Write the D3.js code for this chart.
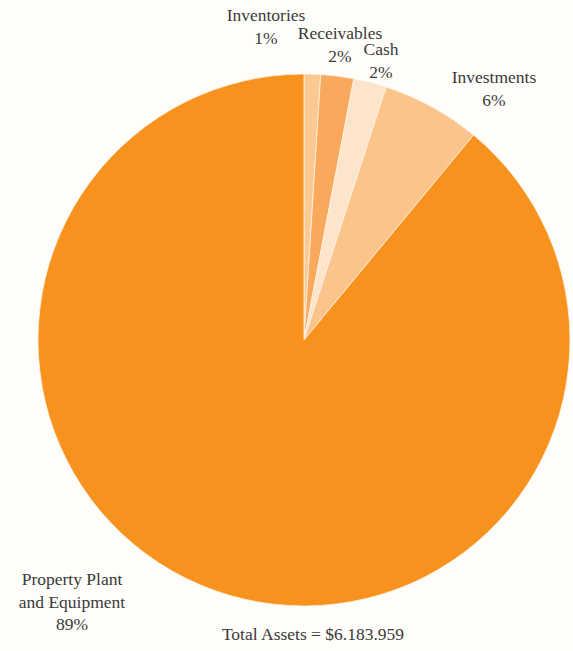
<!DOCTYPE html>
<html><head><meta charset="utf-8">
<script src="https://cdn.jsdelivr.net/npm/d3@7"></script>
<style>
html,body{margin:0;padding:0;background:#fffefb;}
svg{display:block;}
text{font-family:"Liberation Serif","Times New Roman",serif;fill:#3a3a3a;}
</style></head><body>
<svg id="chart" width="573" height="651"></svg>
<script>
const categories = ["Inventories","Receivables","Cash","Investments","Property Plant and Equipment"];
const values = [1, 2, 2, 6, 89];
const colors = ["#fcc993","#f9a95b","#fde5cc","#fbc48b","#f7921e"];
const labelLines = [["Inventories","1%"],["Receivables","2%"],["Cash","2%"],["Investments","6%"],["Property Plant","and Equipment","89%"]];
const labelPos = [[266,21],[340,39],[381,55],[494,83],[72,585]];
const totalLabel = "Total Assets = $6.183.959";

const svg = d3.select("#chart");
const cx = 304, cy = 340, r = 266;
const pie = d3.pie().sort(null).value(d => d)(values);
const arc = d3.arc().innerRadius(0).outerRadius(r);
const g = svg.append("g").attr("transform", `translate(${cx},${cy})`);
g.selectAll("path").data(pie).join("path")
  .attr("d", arc)
  .attr("fill", (d,i) => colors[i])
  .attr("stroke", "#fff3e4")
  .attr("stroke-width", 0.8);

labelLines.forEach((lines, i) => {
  const t = svg.append("text").attr("text-anchor","middle").attr("font-size", 17.5);
  lines.forEach((ln, j) => {
    t.append("tspan").attr("x", labelPos[i][0]).attr("y", labelPos[i][1] + j*22.5).text(ln);
  });
});
svg.append("text").attr("x", 313).attr("y", 640).attr("text-anchor","middle").attr("font-size",17.5).text(totalLabel);
</script>
</body></html>
